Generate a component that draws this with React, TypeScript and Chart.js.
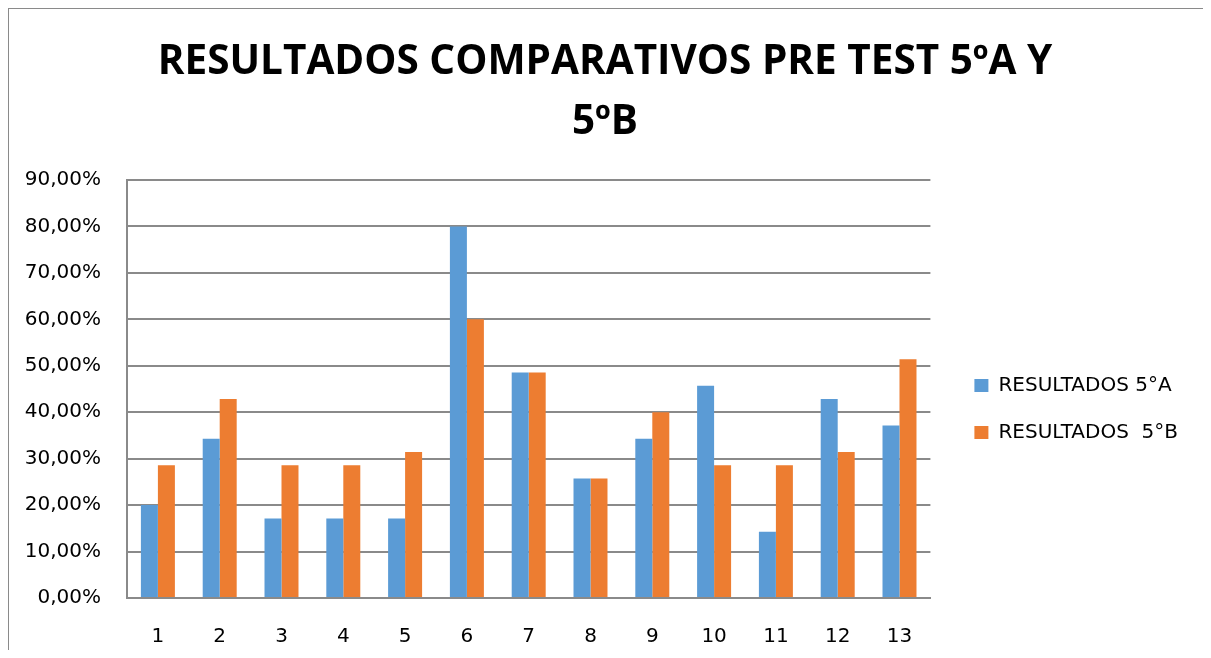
import React, { useEffect, useRef } from "react";
import { Chart, registerables } from "chart.js";

Chart.register(...registerables);

const categories = ["1", "2", "3", "4", "5", "6", "7", "8", "9", "10", "11", "12", "13"];
const resultados5A = [0.2, 0.3429, 0.1714, 0.1714, 0.1714, 0.8, 0.4857, 0.2571, 0.3429, 0.4571, 0.1429, 0.4286, 0.3714];
const resultados5B = [0.2857, 0.4286, 0.2857, 0.2857, 0.3143, 0.6, 0.4857, 0.2571, 0.4, 0.2857, 0.2857, 0.3143, 0.5143];
const seriesLabels = ["RESULTADOS 5°A", "RESULTADOS  5°B"];
const titleLines = ["RESULTADOS COMPARATIVOS PRE TEST 5ºA Y", "5ºB"];
const yMin = 0;
const yMax = 0.9;
const yStep = 0.1;

const GRID = "#8a8a8a";
const TEXT = "#000000";
const TICK_FONT = { family: "'DejaVu Sans', sans-serif", size: 20 };

export default function App() {
  const ref = useRef<HTMLCanvasElement>(null);

  useEffect(() => {
    document.documentElement.style.overflow = "hidden";
    document.body.style.overflow = "hidden";
    if (!ref.current) return;
    const chart = new Chart(ref.current, {
      type: "bar",
      data: {
        labels: categories,
        datasets: [
          { label: seriesLabels[0], data: resultados5A, backgroundColor: "#5B9BD5", borderWidth: 0 },
          { label: seriesLabels[1], data: resultados5B, backgroundColor: "#ED7D31", borderWidth: 0 },
        ],
      },
      options: {
        animation: false,
        responsive: true,
        maintainAspectRatio: false,
        layout: { padding: { left: 13, right: 21, top: 0, bottom: 0 } },
        datasets: { bar: { categoryPercentage: 0.55, barPercentage: 1 } },
        plugins: {
          tooltip: { enabled: false },
          title: {
            display: true,
            text: titleLines,
            color: TEXT,
            font: { family: "'Open Sans', sans-serif", size: 40.5, weight: "bold", lineHeight: 60 / 40.5 },
            padding: { top: 23, bottom: 28 },
          },
          legend: {
            position: "right",
            fullSize: false,
            align: "center",
            maxWidth: 400,
            title: { display: true, text: " ", font: { size: 1, lineHeight: 1.2 }, padding: { top: 19, bottom: 20 } },
            labels: {
              color: TEXT,
              font: TICK_FONT,
              boxWidth: 14,
              boxHeight: 13,
              padding: 27,
            },
          },
        },
        scales: {
          x: {
            grid: { display: false, drawTicks: false },
            border: { display: true, color: GRID, width: 2 },
            ticks: { color: TEXT, font: TICK_FONT, padding: 27, maxRotation: 0 },
            afterFit: (s: any) => { s.height = 52; },
          },
          y: {
            min: yMin,
            max: yMax,
            grid: { color: GRID, lineWidth: 2, drawTicks: false },
            border: { display: true, color: GRID, width: 2 },
            ticks: {
              stepSize: yStep,
              color: TEXT,
              font: TICK_FONT,
              padding: 26,
              callback: (v: any) => (Number(v) * 100).toFixed(2).replace(".", ",") + "%",
            },
            afterFit: (s: any) => { s.width = 105; },
          },
          spacer: {
            type: "linear",
            position: "right",
            display: true,
            grid: { display: false, drawTicks: false },
            border: { display: false },
            ticks: { display: false },
            afterFit: (s: any) => { s.width = 17; },
          },
        },
      } as any,
    });
    return () => chart.destroy();
  }, []);

  return (
    <div
      style={{
        position: "relative",
        width: 1202,
        height: 642,
        boxSizing: "border-box",
        borderTop: "1px solid #8a8a8a",
        borderLeft: "1px solid #8a8a8a",
        borderRight: "1px solid #8a8a8a",
        background: "#ffffff",
      }}
    >
      <canvas ref={ref} />
    </div>
  );
}
